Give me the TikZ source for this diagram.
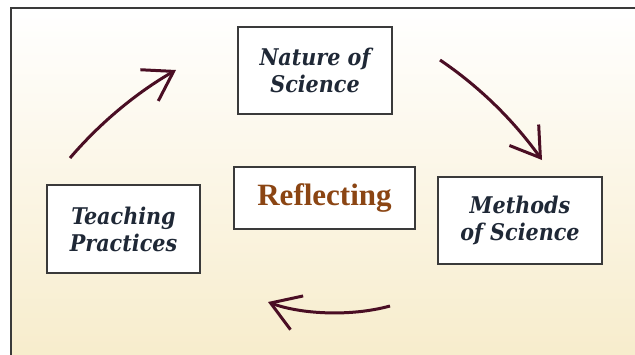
\documentclass[tikz,border=0pt]{standalone}
\usepackage{fontspec}
\setmainfont{DejaVu Serif Condensed}
\newfontfamily\reflfont{Liberation Serif}
\usetikzlibrary{arrows.meta}
\definecolor{arrowred}{HTML}{4A0E24}
\definecolor{textblue}{HTML}{1F2836}
\definecolor{reflbrown}{HTML}{8B4513}
\definecolor{bgtop}{HTML}{FFFFFF}
\definecolor{bgbottom}{HTML}{F7ECCB}
\definecolor{framegray}{HTML}{3A3A3A}

\begin{document}
\begin{tikzpicture}[x=1pt,y=-1pt,
    box/.style={draw=framegray, line width=1.3pt, fill=white, inner sep=0pt,
        align=center, text=textblue, font=\bfseries\itshape\fontsize{23}{27}\selectfont},
    cycarrow/.style={draw=arrowred, line width=3pt,
        -{Straight Barb[length=28pt,width=36pt]}}]
                % Canvas
                \useasboundingbox (0,0) rectangle (635,354);
                \clip (0,0) rectangle (635,354);
                \fill[white] (0,0) rectangle (635,354);
                \shade[top color=bgtop, bottom color=bgbottom, draw=framegray, line width=2pt]
                    (11,8) rectangle (645,364);

                % Boxes
                \node[box, minimum width=154pt, minimum height=87pt] (nature) at (315,70.5) {Nature of\\Science};
                \node[box, minimum width=164pt, minimum height=87pt] (methods) at (520,220.5) {Methods\\of Science};
                \node[box, minimum width=153pt, minimum height=88pt] (practices) at (123.5,229) {Teaching\\Practices};
                \node[box, minimum width=181pt, minimum height=62pt, text=reflbrown,
                    font=\reflfont\bfseries\fontsize{31}{34}\selectfont] (reflect) at (324.5,198) {Reflecting};

                % Arrow ends
                \coordinate (a1) at (70,158);
                \coordinate (a2) at (176,70);
                \coordinate (b1) at (440,60);
                \coordinate (b2) at (542,160);
                \coordinate (c1) at (390,306);
                \coordinate (c2) at (268,302);

                % Arrows
                \draw[cycarrow] (a1) .. controls (100,123) and (136,93) .. (a2);
                \draw[cycarrow] (b1) .. controls (480,87) and (514,121) .. (b2);
                \draw[cycarrow] (c1) .. controls (350,317) and (300,314) .. (c2);
            \end{tikzpicture}
\end{document}
